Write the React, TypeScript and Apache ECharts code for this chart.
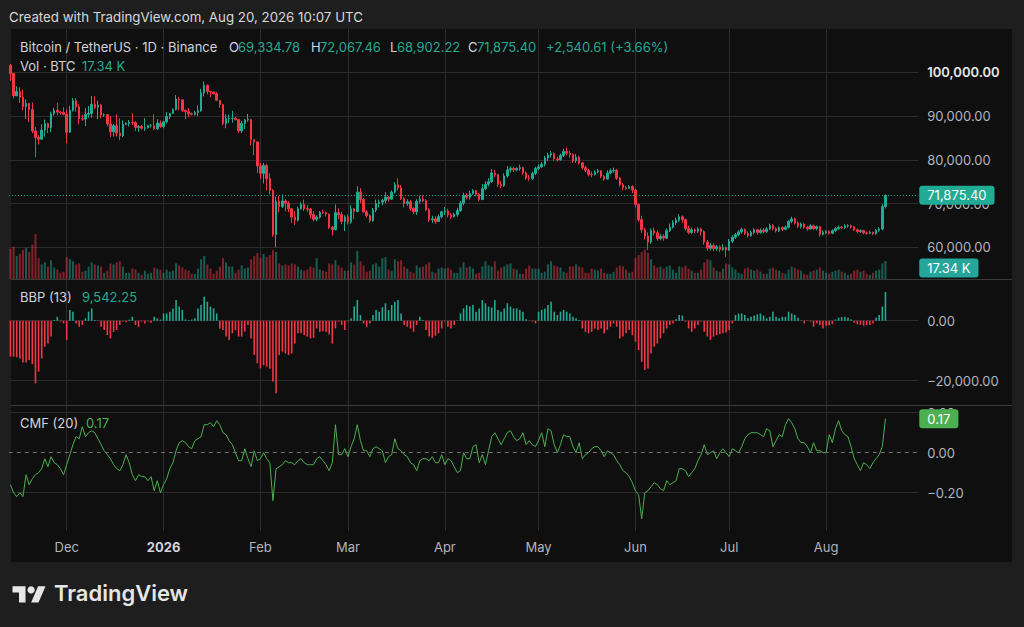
import React, { useEffect, useRef } from "react";
import * as echarts from "echarts";

// ---------------- DATA (prices in thousands of USDT, volume in thousands of BTC) ----------------
const START_UTC = Date.UTC(2025, 10, 13); // first visible daily bar: 13 Nov 2025
const FUTURE_SLOTS = 10; // empty bars to the right of the last candle
const FIRST_OPEN_K = 101.6;

const CLOSE_K = [
  // Nov
  99.7, 94.6, 95.6, 94.3, 92.2, 92.9, 91.5, 86.6, 85.1, 84.7, 86.8, 88.3, 87.4, 90.5, 91.3, 90.9, 90.8, 90.4,
  // Dec
  86.3, 91.3, 93.5, 92.1, 89.4, 89.3, 90.4, 90.6, 92.7, 92.0, 92.5, 90.3, 90.3, 88.2, 86.4, 87.8, 86.1, 85.5, 88.1, 88.3, 88.6, 88.5, 87.4, 87.6, 87.2, 87.3, 87.8, 87.8, 87.1, 88.4, 87.6,
  // Jan
  88.7, 89.9, 90.6, 91.5, 93.9, 93.7, 91.3, 91.0, 90.5, 90.4, 90.8, 91.2, 95.3, 97.0, 95.6, 95.5, 95.1, 93.6, 92.6, 88.3, 89.4, 89.5, 89.5, 89.2, 86.6, 88.3, 89.1, 89.2, 84.6, 84.1, 78.6,
  // Feb
  76.9, 78.7, 75.7, 73.0, 62.9, 70.5, 69.3, 70.6, 70.1, 68.8, 66.9, 66.2, 68.8, 69.8, 68.8, 68.7, 67.5, 66.4, 66.9, 68.0, 67.9, 67.6, 64.6, 64.0, 67.9, 67.5, 65.9, 66.9,
  // Mar
  65.8, 68.8, 68.2, 72.6, 70.9, 68.1, 67.2, 66.1, 68.5, 70.0, 70.3, 70.7, 71.5, 71.0, 72.6, 74.3, 73.6, 71.2, 70.0, 70.4, 68.9, 68.1, 70.5, 71.0, 70.6, 68.6, 66.3, 66.5, 65.9, 67.0, 68.1,
  // Apr
  68.3, 67.4, 67.0, 67.5, 68.4, 70.1, 71.9, 71.4, 72.3, 72.9, 72.1, 70.9, 73.4, 74.4, 75.0, 77.0, 76.6, 74.4, 74.1, 76.3, 77.7, 78.0, 77.7, 78.0, 78.2, 77.0, 75.8, 75.7, 76.9, 78.0,
  // May
  78.4, 79.0, 80.4, 81.1, 81.4, 80.2, 80.0, 81.0, 81.9, 81.5, 81.2, 79.8, 80.6, 79.3, 78.2, 77.6, 76.7, 76.6, 77.2, 77.5, 76.2, 75.6, 77.0, 77.5, 77.6, 75.8, 74.3, 73.6, 73.5, 73.9, 73.1,
  // Jun
  69.8, 66.3, 64.0, 62.6, 61.2, 63.8, 63.3, 62.0, 62.5, 62.1, 63.8, 64.6, 65.6, 66.2, 67.0, 66.3, 64.3, 63.4, 64.0, 63.7, 64.2, 63.6, 61.2, 59.8, 60.4, 59.7, 60.1, 59.5, 59.9, 59.4,
  // Jul
  61.4, 62.3, 62.9, 63.5, 64.1, 63.2, 62.7, 63.4, 64.0, 63.4, 63.9, 63.6, 64.2, 65.0, 64.3, 63.8, 64.5, 64.1, 64.6, 65.9, 66.5, 65.6, 64.8, 65.3, 64.6, 64.2, 64.9, 64.3, 64.7, 63.0, 63.4,
  // Aug
  63.6, 63.2, 63.8, 64.3, 64.6, 64.5, 64.9, 65.0, 64.7, 64.0, 63.6, 63.8, 63.3, 63.2, 63.4, 63.1, 63.9, 64.2, 69.33478, 71.8754,
];

const HIGH_K = [
  101.9, 99.9, 96.8, 96.6, 96.0, 93.8, 92.9, 93.1, 87.5, 85.6, 88.1, 89.2, 88.5, 91.0, 91.9, 93.1, 91.2, 92.0,
  91.5, 92.3, 94.1, 94.1, 92.7, 90.3, 91.8, 92.3, 94.6, 94.5, 93.5, 92.8, 90.6, 90.4, 90.0, 88.2, 90.4, 89.5, 89.0, 88.6, 89.1, 90.6, 88.9, 87.9, 88.0, 89.5, 88.0, 88.2, 90.4, 89.3, 89.0,
  88.9, 90.9, 90.7, 91.8, 94.8, 94.4, 93.8, 91.5, 91.8, 90.8, 91.2, 92.4, 96.2, 97.9, 97.2, 95.8, 95.6, 95.5, 93.7, 92.8, 90.4, 90.3, 91.2, 89.8, 89.2, 88.9, 89.3, 90.5, 89.2, 84.5, 84.0,
  79.3, 79.3, 79.0, 76.9, 73.3, 71.6, 71.7, 72.1, 71.0, 70.5, 69.0, 68.3, 69.3, 70.3, 70.9, 69.7, 69.0, 68.3, 67.3, 68.3, 68.6, 68.2, 67.7, 64.9, 69.8, 68.9, 68.1, 67.3,
  67.5, 69.6, 69.0, 74.0, 73.5, 71.3, 68.5, 67.6, 69.0, 70.9, 70.9, 71.1, 72.6, 71.7, 73.0, 74.9, 75.8, 74.2, 71.5, 71.0, 70.8, 69.2, 71.0, 71.8, 71.9, 71.0, 68.9, 67.2, 67.1, 67.5, 68.4,
  69.2, 68.8, 67.8, 67.9, 69.0, 70.6, 72.5, 72.4, 72.9, 73.3, 73.1, 72.4, 74.4, 75.1, 75.8, 77.9, 77.7, 76.8, 75.2, 76.9, 78.6, 78.5, 78.4, 78.3, 78.9, 78.4, 77.3, 76.5, 77.3, 78.4,
  78.9, 79.5, 80.9, 81.6, 82.0, 81.7, 80.7, 81.4, 82.5, 82.8, 82.0, 81.5, 81.3, 80.9, 79.5, 78.6, 77.9, 77.3, 77.6, 77.9, 77.6, 76.5, 77.6, 78.0, 78.2, 77.9, 76.1, 74.7, 74.0, 74.2, 74.2,
  73.4, 70.0, 67.2, 64.5, 63.4, 64.3, 64.5, 63.9, 63.1, 63.0, 64.3, 65.4, 66.2, 66.8, 67.6, 67.3, 66.6, 64.9, 64.5, 64.3, 64.6, 64.5, 63.9, 61.7, 61.0, 60.9, 60.5, 60.4, 60.7, 60.2,
  61.9, 62.8, 63.3, 63.9, 64.5, 64.3, 63.6, 63.8, 64.4, 64.2, 64.3, 64.4, 64.6, 65.4, 65.3, 64.6, 64.8, 64.8, 65.0, 66.2, 67.0, 66.8, 65.9, 65.7, 65.6, 64.9, 65.3, 65.2, 65.0, 64.9, 63.9,
  63.9, 63.9, 64.1, 64.6, 65.0, 64.9, 65.3, 65.3, 65.2, 64.9, 64.3, 64.1, 64.0, 63.6, 63.8, 63.6, 64.2, 64.6, 69.9, 72.06746,
];

const LOW_K = [
  98.0, 94.0, 94.6, 93.0, 91.3, 89.3, 88.6, 86.1, 80.6, 83.5, 84.6, 85.3, 86.1, 86.3, 90.1, 90.2, 90.3, 90.2,
  83.8, 86.2, 91.0, 91.0, 88.1, 88.9, 87.7, 89.6, 89.6, 91.6, 89.3, 89.5, 89.8, 87.6, 85.2, 85.3, 85.3, 84.5, 85.2, 87.9, 87.6, 87.9, 86.6, 86.4, 86.9, 86.6, 87.2, 87.4, 86.8, 86.8, 87.3,
  87.2, 88.3, 89.3, 90.5, 91.3, 91.3, 90.9, 89.3, 89.7, 90.2, 90.1, 90.0, 91.0, 94.5, 95.0, 94.3, 94.9, 93.5, 91.9, 87.9, 87.2, 88.4, 88.5, 89.0, 86.1, 86.1, 87.0, 88.7, 83.3, 81.1, 77.0,
  75.6, 74.6, 73.0, 72.1, 62.4, 60.0, 68.0, 69.0, 68.2, 68.0, 65.6, 65.1, 65.9, 68.6, 68.3, 68.1, 66.6, 65.9, 65.9, 66.5, 67.6, 67.0, 64.2, 62.7, 63.9, 66.4, 65.3, 63.7,
  65.2, 65.3, 66.4, 68.0, 70.1, 67.9, 66.8, 65.6, 65.8, 68.0, 69.1, 69.6, 70.1, 70.4, 70.9, 72.3, 73.0, 70.8, 69.1, 69.5, 68.4, 67.6, 67.4, 70.0, 70.3, 68.2, 65.8, 65.6, 65.3, 65.9, 66.6,
  67.4, 66.8, 66.5, 66.8, 67.0, 68.1, 69.6, 70.9, 70.9, 72.0, 71.6, 70.5, 70.8, 73.1, 73.9, 74.7, 76.0, 73.8, 73.5, 73.8, 75.9, 77.1, 77.2, 77.4, 77.5, 76.6, 75.4, 75.2, 75.4, 76.5,
  77.6, 78.1, 78.5, 79.7, 80.5, 79.8, 79.6, 79.8, 80.6, 81.0, 80.5, 79.3, 79.3, 78.9, 77.8, 77.2, 76.2, 76.0, 76.4, 76.9, 75.8, 75.2, 75.5, 76.7, 77.0, 75.4, 73.9, 73.0, 73.1, 73.3, 72.4,
  69.1, 65.9, 63.3, 61.8, 59.4, 60.8, 62.7, 61.5, 61.6, 61.5, 61.9, 63.5, 64.3, 65.1, 65.8, 65.6, 63.8, 63.0, 63.1, 63.2, 63.3, 62.7, 60.6, 59.2, 59.3, 59.1, 59.2, 58.9, 59.2, 57.8,
  59.2, 61.0, 61.9, 62.5, 63.1, 62.8, 62.2, 62.4, 63.0, 62.9, 63.1, 63.2, 63.3, 63.9, 63.9, 63.4, 63.5, 63.7, 63.9, 64.3, 65.5, 65.2, 64.4, 64.3, 64.2, 63.8, 64.0, 63.9, 63.9, 62.4, 62.7,
  63.0, 62.9, 63.0, 63.5, 64.0, 64.1, 64.2, 64.5, 64.3, 63.7, 63.2, 63.3, 63.0, 62.9, 63.0, 62.8, 62.9, 63.5, 63.9, 68.90222,
];

const VOLUME_K = [
  29, 31, 22, 24, 28, 30, 26, 33, 43, 20, 14, 16, 12, 18, 11, 9, 6, 7,
  21, 19, 17, 14, 15, 7, 8, 12, 16, 14, 13, 12, 6, 8, 15, 14, 16, 17, 12, 6, 6, 10, 9, 6, 4, 8, 5, 6, 11, 10, 9,
  6, 9, 7, 8, 15, 13, 11, 9, 8, 5, 5, 10, 19, 22, 14, 10, 5, 8, 12, 20, 16, 12, 12, 6, 9, 13, 10, 11, 19, 22, 25,
  20, 24, 21, 23, 28, 26, 15, 13, 14, 13, 15, 14, 12, 9, 8, 9, 12, 11, 20, 9, 8, 7, 15, 14, 18, 13, 11, 8,
  8, 16, 14, 27, 17, 13, 7, 8, 14, 15, 12, 20, 21, 9, 8, 19, 17, 18, 12, 10, 7, 6, 13, 11, 12, 14, 16, 7, 6, 10, 11,
  10, 11, 9, 6, 6, 11, 16, 11, 12, 10, 5, 6, 12, 17, 13, 12, 17, 8, 11, 12, 14, 15, 10, 9, 5, 5, 10, 13, 10, 10,
  10, 6, 7, 14, 17, 13, 12, 11, 7, 6, 12, 12, 14, 12, 11, 6, 6, 10, 9, 8, 10, 6, 5, 5, 7, 11, 13, 12, 9, 6, 7,
  20, 23, 26, 28, 25, 19, 13, 11, 12, 10, 12, 13, 9, 6, 12, 11, 13, 10, 8, 6, 6, 9, 16, 19, 18, 11, 8, 7, 10, 15,
  14, 11, 9, 6, 5, 10, 11, 9, 8, 9, 7, 5, 5, 10, 11, 9, 8, 6, 5, 9, 12, 11, 9, 8, 5, 4, 7, 8, 9, 11, 8,
  6, 5, 7, 8, 9, 7, 6, 4, 5, 8, 9, 7, 8, 5, 4, 6, 8, 9, 15, 17.34,
];

// Bull Bear Power (13), thousands
const BBP_K = [
  -12.0, -12.0, -12.2, -12.6, -13.9, -13.9, -13.1, -14.5, -20.9, -17.0, -12.6, -8.7, -7.6, -5.3, 0.2, 1.3, -0.3, -0.9,
  -6.4, 3.6, 3.0, -0.9, -2.0, -1.4, 0.8, 3.0, 4.1, 0.2, 0.1, -2.0, -3.1, -4.8, -5.9, -3.7, -3.1, -1.4, -0.3, -0.5, 0.3, 1.3, -1.4, -2.0, -0.3, -0.9, -0.3, -0.7, 1.3, 0.8, 0.4,
  2.4, 2.4, 3.0, 4.1, 6.9, 4.7, 3.6, 0.4, 0.2, 0.4, 0.8, 4.1, 5.2, 8.0, 6.3, 4.7, 4.1, 2.4, -2.6, -3.1, -5.3, -6.4, -4.2, -3.1, -5.3, -5.3, -3.7, -1.4, -5.9, -11.4, -14.2,
  -15.9, -14.8, -15.3, -16.0, -20.3, -24.2, -11.4, -10.3, -10.9, -11.4, -10.9, -7.6, -4.2, -4.2, -4.8, -5.3, -5.9, -5.7, -2.6, -3.7, -3.5, -3.7, -4.6, -7.6, -2.6, -0.3, -1.4, -3.1,
  -0.3, 0.8, 4.7, 6.9, 1.9, -0.9, -2.0, -0.9, 1.9, 3.6, 3.0, 4.5, 5.8, 3.6, 5.2, 6.3, 6.9, 2.4, -1.4, -2.0, -2.6, -3.7, -1.4, 1.3, 0.2, -3.1, -5.3, -5.7, -5.0, -4.2, -2.6,
  -0.3, -2.0, -2.6, -1.4, 0.1, 2.4, 4.1, 5.2, 4.7, 5.2, 3.0, 4.1, 6.9, 5.8, 4.7, 4.4, 6.9, 3.6, 3.0, 4.1, 5.8, 4.7, 4.1, 4.1, 3.6, 3.0, 0.5, 0.1, -0.3, -0.9,
  3.0, 3.6, 4.1, 5.2, 6.3, 3.0, 1.9, 3.0, 3.6, 3.0, 2.4, 1.3, 0.8, 0.2, -2.6, -3.7, -4.2, -3.7, -2.6, -3.1, -2.6, -4.2, -3.0, -2.0, -0.9, -2.0, -5.9, -5.3, -4.2, -3.1, -4.8,
  -7.0, -9.8, -13.7, -16.4, -15.9, -10.9, -8.7, -7.6, -5.9, -4.2, -2.6, -1.4, -0.9, 0.5, 1.9, 1.7, -0.3, -2.6, -3.7, -2.6, -1.4, -0.3, -3.7, -5.3, -6.4, -5.3, -4.8, -4.5, -4.2, -3.9,
  -3.1, -0.9, 1.9, 2.4, 2.4, 1.9, 0.8, 1.3, 1.7, 2.1, 2.4, 1.7, 0.8, 1.3, 3.0, 1.3, 0.8, 1.3, 1.3, 3.0, 2.4, 2.0, 1.0, 0.1, -0.9, -0.1, -0.3, -2.0, -0.9, -1.4, -2.6,
  -1.7, -1.5, -1.2, 0.4, 1.0, 1.2, 1.3, 1.0, 0.4, -0.7, -1.2, -1.4, -1.7, -1.5, -1.4, -0.9, 1.0, 1.9, 4.7, 9.54225,
];

// Chaikin Money Flow (20)
const CMF = [
  -0.16, -0.20, -0.22, -0.20, -0.22, -0.11, -0.16, -0.13, -0.11, -0.10, -0.08, -0.03, -0.07, -0.02, -0.05, -0.06, -0.08, -0.11,
  -0.06, -0.01, 0.04, 0.08, 0.07, 0.13, 0.08, 0.10, 0.11, 0.10, 0.07, 0.04, 0.01, -0.01, -0.03, -0.06, -0.08, -0.09, -0.06, -0.01, -0.05, -0.11, -0.14, -0.11, -0.12, -0.12, -0.14, -0.12, -0.19, -0.14, -0.20,
  -0.16, -0.13, -0.08, -0.05, 0.01, 0.05, 0.06, 0.05, 0.03, 0.02, 0.06, 0.07, 0.08, 0.14, 0.14, 0.15, 0.13, 0.16, 0.14, 0.10, 0.09, 0.06, 0.04, 0.00, -0.04, -0.04, 0.02, -0.03, -0.07, 0.01, -0.04,
  -0.03, 0.00, -0.03, -0.05, -0.24, -0.08, -0.07, -0.06, -0.04, -0.05, -0.05, -0.06, -0.04, -0.03, -0.05, -0.06, -0.06, -0.06, -0.03, -0.02, -0.04, -0.06, -0.09, -0.05, 0.14, -0.01, -0.01, 0.02,
  -0.02, 0.03, 0.07, 0.14, 0.06, 0.01, 0.01, -0.02, 0.02, 0.03, 0.02, 0.01, -0.05, -0.02, -0.01, 0.07, 0.02, 0.01, -0.01, -0.02, -0.05, -0.06, -0.09, -0.04, -0.03, -0.03, -0.04, -0.02, -0.05, -0.05, -0.01,
  -0.06, -0.03, -0.04, -0.07, -0.10, -0.09, 0.00, -0.03, -0.03, 0.03, 0.04, -0.05, -0.01, -0.06, 0.01, 0.08, 0.10, 0.07, 0.04, 0.07, 0.10, 0.11, 0.08, 0.06, 0.07, 0.10, 0.04, 0.06, 0.04, 0.03,
  0.06, 0.10, 0.03, 0.12, 0.11, 0.04, 0.00, 0.04, 0.09, 0.08, 0.08, 0.03, 0.00, 0.05, -0.03, -0.01, 0.00, 0.02, 0.03, 0.03, 0.01, -0.02, 0.01, 0.00, -0.01, -0.04, -0.06, -0.09, -0.10, -0.12, -0.15,
  -0.19, -0.21, -0.33, -0.20, -0.19, -0.17, -0.15, -0.16, -0.18, -0.19, -0.14, -0.16, -0.15, -0.14, -0.08, -0.08, -0.09, -0.12, -0.10, -0.08, -0.04, -0.01, 0.04, -0.01, 0.00, 0.01, -0.03, 0.00, 0.02, 0.00,
  -0.02, 0.02, 0.01, 0.00, 0.03, 0.07, 0.09, 0.10, 0.10, 0.10, 0.09, 0.08, 0.12, 0.11, 0.03, 0.06, 0.09, 0.08, 0.14, 0.17, 0.15, 0.12, 0.07, 0.05, 0.05, 0.03, 0.00, 0.05, 0.01, 0.01, 0.00,
  0.00, 0.09, 0.05, 0.12, 0.16, 0.11, 0.09, 0.08, 0.03, -0.03, -0.06, -0.09, -0.05, -0.06, -0.08, -0.05, -0.03, -0.01, 0.03, 0.17,
];

// Time-axis tick labels (shown on the first bar of each month)
const MONTH_KEYS = ["2025-12", "2026-01", "2026-02", "2026-03", "2026-04", "2026-05", "2026-06", "2026-07", "2026-08"];
const MONTH_LABELS = ["Dec", "2026", "Feb", "Mar", "Apr", "May", "Jun", "Jul", "Aug"];

// Legend texts
const HEADER_TEXT = "Created with TradingView.com, Aug 20, 2026 10:07 UTC";
const SYMBOL_TEXT = "Bitcoin / TetherUS · 1D · Binance";
const OHLC_KEYS = ["O", "H", "L", "C"];
const OHLC_TEXT = ["69,334.78", "72,067.46", "68,902.22", "71,875.40"];
const CHANGE_TEXT = "+2,540.61 (+3.66%)";

// ---------------- STYLE ----------------
const FONT = 'Inter, "Noto Sans", "DejaVu Sans", sans-serif';
const UP = "#22ab94";
const DOWN = "#f23645";
const UP_VOL = "rgba(34,171,148,0.5)";
const DOWN_VOL = "rgba(242,54,69,0.5)";
const CMF_COLOR = "#4caf50";
const GRID_C = "#2c2c2c";
const SEP_C = "#3a3a3a";
const AXIS_TXT = "#b2b5be";
const LEG_TXT = "#d1d4dc";

const BAR_PX = 3.125;
const FIRST_X = 10.45;
const TV_LOGO_PATH = "M14 22H7V11H0V4h14v18zM28 22h-8l7.5-18h8L28 22z";

const fmt = (v: number, d = 2) =>
  v.toLocaleString("en-US", { minimumFractionDigits: d, maximumFractionDigits: d }).replace("-", "\u2212");

function buildOption() {
  const n = CLOSE_K.length;
  const total = n + FUTURE_SLOTS;
  const dates: string[] = [];
  for (let i = 0; i < total; i++) dates.push(new Date(START_UTC + i * 86400000).toISOString().slice(0, 10));
  const monthLabel = (d: string) => {
    if (!d || !d.endsWith("-01")) return null;
    const k = MONTH_KEYS.indexOf(d.slice(0, 7));
    return k >= 0 ? MONTH_LABELS[k] : null;
  };
  const isMonthIdx = (idx: number) => monthLabel(dates[idx]) !== null;

  const ohlc = CLOSE_K.map((c, i) => {
    const o = i === 0 ? FIRST_OPEN_K : CLOSE_K[i - 1];
    const h = Math.max(HIGH_K[i], o, c);
    const l = Math.min(LOW_K[i], o, c);
    return [o * 1000, c * 1000, l * 1000, h * 1000];
  });
  const volData = VOLUME_K.map((v, i) => ({
    value: v,
    itemStyle: { color: ohlc[i][1] >= ohlc[i][0] ? UP_VOL : DOWN_VOL },
  }));
  const bbpData = BBP_K.map((v) => ({ value: v * 1000, itemStyle: { color: v >= 0 ? UP : DOWN } }));

  const lastClose = ohlc[n - 1][1];
  const lastVol = VOLUME_K[n - 1];
  const lastBbp = BBP_K[n - 1] * 1000;
  const lastCmf = CMF[n - 1];

  const gridW = total * BAR_PX;
  const mainLeft = FIRST_X - BAR_PX / 2;
  const mainRight = 1024 - (mainLeft + gridW);
  const bgRight = 1024 - (FIRST_X + (total - 1) * BAR_PX);

  const badge = (text: string, bg: string, offsetY = 0) => ({
    show: true,
    position: "end",
    distance: 1,
    formatter: text,
    color: "#ffffff",
    backgroundColor: bg,
    padding: [3, 8, 3, 8],
    borderRadius: 3,
    fontSize: 13,
    lineHeight: 13,
    fontFamily: FONT,
    offset: [0, offsetY],
  });
  const hidden = { color: "rgba(0,0,0,0)", width: 0 };

  const axisLbl = { color: AXIS_TXT, fontSize: 13, fontFamily: FONT, margin: 9 };
  const hideX = (g: number) => ({ type: "category", gridIndex: g, data: dates, show: false });

  const txt = (x: number, y: number, text: string, fill: string, font = `13px ${FONT}`) => ({
    type: "text",
    x,
    y,
    z: 60,
    silent: true,
    style: { text, fill, font, align: "left", verticalAlign: "middle" },
  });

  const ohlcX = [229, 311, 390, 468];
  const ohlcValX = [238, 320, 397, 477];
  const graphics: any[] = [
    txt(9, 17, HEADER_TEXT, "#d9d9d9", `13.3px ${FONT}`),
    txt(20, 47, SYMBOL_TEXT, LEG_TXT),
    ...OHLC_KEYS.map((k, i) => txt(ohlcX[i], 47, k, LEG_TXT)),
    ...OHLC_TEXT.map((v, i) => txt(ohlcValX[i], 47, v, UP)),
    txt(546, 47, CHANGE_TEXT, UP),
    txt(20, 66, "Vol · BTC", LEG_TXT),
    txt(82, 66, `${fmt(lastVol)} K`, UP),
    txt(20, 297, "BBP (13)", LEG_TXT),
    txt(82, 297, fmt(lastBbp), UP),
    txt(20, 423, "CMF (20)", LEG_TXT),
    txt(86, 423, fmt(lastCmf), CMF_COLOR),
    { type: "line", z: 50, silent: true, shape: { x1: 11, y1: 279.5, x2: 1012, y2: 279.5 }, style: { stroke: SEP_C, lineWidth: 1 } },
    { type: "line", z: 50, silent: true, shape: { x1: 11, y1: 405.5, x2: 1012, y2: 405.5 }, style: { stroke: SEP_C, lineWidth: 1 } },
    { type: "tvLogo", x: 12.5, y: 582.6, scaleX: 0.93, scaleY: 0.91, z: 60, silent: true, style: { fill: "#e6e6e6" } },
    { type: "circle", z: 60, silent: true, shape: { cx: 12.5 + 20 * 0.93, cy: 582.6 + 8 * 0.91, r: 4 * 0.91 }, style: { fill: "#e6e6e6" } },
    txt(54, 593, "TradingView", "#e6e6e6", `600 22px ${FONT}`),
  ];

  return {
    animation: false,
    backgroundColor: "transparent",
    textStyle: { fontFamily: FONT },
    grid: [
      { left: mainLeft, right: mainRight, top: 28.55, height: 218.75, outerBoundsMode: "none" },
      { left: mainLeft, right: mainRight, top: 229, height: 50, outerBoundsMode: "none" },
      { left: mainLeft, right: mainRight, top: 320.7, height: 60, outerBoundsMode: "none" },
      { left: mainLeft, right: mainRight, top: 412.7, height: 80, outerBoundsMode: "none" },
      { left: FIRST_X, right: bgRight, top: 29, height: 502, outerBoundsMode: "none" },
    ],
    xAxis: [
      hideX(0),
      hideX(1),
      hideX(2),
      hideX(3),
      {
        type: "category",
        gridIndex: 4,
        data: dates,
        boundaryGap: false,
        axisLine: { show: false },
        axisTick: { show: false },
        splitLine: { show: true, interval: (idx: number) => isMonthIdx(idx), lineStyle: { color: GRID_C, width: 1 } },
        axisLabel: {
          interval: (idx: number) => isMonthIdx(idx),
          formatter: (value: string) => {
            const l = monthLabel(value) || "";
            return l === "2026" ? `{b|${l}}` : l;
          },
          color: AXIS_TXT,
          fontSize: 13,
          fontFamily: FONT,
          margin: 9,
          rich: { b: { fontWeight: "bold", color: LEG_TXT, fontSize: 13, fontFamily: FONT } },
        },
      },
    ],
    yAxis: [
      {
        type: "value",
        gridIndex: 0,
        position: "right",
        min: 60000,
        max: 110000,
        interval: 10000,
        axisLine: { show: false },
        axisTick: { show: false },
        splitLine: { show: true, showMaxLine: false, lineStyle: { color: GRID_C } },
        axisLabel: {
          ...axisLbl,
          showMaxLabel: false,
          formatter: (v: number) => (v >= 110000 ? "" : v === 100000 ? `{hi|${fmt(v)}}` : fmt(v)),
          rich: { hi: { color: "#e8e8e8", fontWeight: 600, fontSize: 13, fontFamily: FONT } },
        },
      },
      { type: "value", gridIndex: 1, min: 0, max: 48, show: false },
      {
        type: "value",
        gridIndex: 2,
        position: "right",
        min: -20000,
        max: 0,
        interval: 20000,
        axisLine: { show: false },
        axisTick: { show: false },
        splitLine: { show: true, lineStyle: { color: GRID_C } },
        axisLabel: { ...axisLbl, formatter: (v: number) => fmt(v) },
      },
      {
        type: "value",
        gridIndex: 3,
        position: "right",
        min: -0.2,
        max: 0.2,
        interval: 0.2,
        axisLine: { show: false },
        axisTick: { show: false },
        splitLine: { show: true, lineStyle: { color: [GRID_C, "rgba(0,0,0,0)", GRID_C] } },
        axisLabel: { ...axisLbl, formatter: (v: number) => fmt(Math.round(v * 100) / 100) },
      },
      { type: "value", gridIndex: 4, show: false },
    ],
    series: [
      {
        type: "candlestick",
        xAxisIndex: 0,
        yAxisIndex: 0,
        data: ohlc,
        barWidth: 2,
        clip: false,
        itemStyle: { color: UP, color0: DOWN, borderColor: UP, borderColor0: DOWN, borderWidth: 1 },
        markLine: {
          silent: true,
          symbol: ["none", "none"],
          animation: false,
          data: [
            {
              yAxis: lastClose,
              lineStyle: { color: UP, type: [1, 2], width: 1 },
              label: badge(fmt(lastClose), UP),
            },
          ],
        },
      },
      {
        type: "bar",
        xAxisIndex: 1,
        yAxisIndex: 1,
        data: volData,
        barWidth: 2,
        clip: false,
        markLine: {
          silent: true,
          symbol: ["none", "none"],
          animation: false,
          data: [{ yAxis: lastVol, lineStyle: hidden, label: badge(`${fmt(lastVol)} K`, "#26a69a", 7) }],
        },
      },
      {
        type: "bar",
        xAxisIndex: 2,
        yAxisIndex: 2,
        data: bbpData,
        barWidth: 1.6,
        clip: false,
        markLine: {
          silent: true,
          symbol: ["none", "none"],
          animation: false,
          data: [{ yAxis: lastBbp, lineStyle: hidden, label: badge(fmt(lastBbp), UP) }],
        },
      },
      {
        type: "line",
        xAxisIndex: 3,
        yAxisIndex: 3,
        data: CMF,
        showSymbol: false,
        symbol: "none",
        clip: false,
        lineStyle: { color: CMF_COLOR, width: 1 },
        markLine: {
          silent: true,
          symbol: ["none", "none"],
          animation: false,
          data: [
            { yAxis: 0, lineStyle: { color: "#6e6e6e", type: [4, 4], width: 1 }, label: { show: false } },
            { yAxis: lastCmf, lineStyle: hidden, label: badge(fmt(lastCmf), CMF_COLOR) },
          ],
        },
      },
    ],
    graphic: graphics,
  };
}

export default function App() {
  const ref = useRef<HTMLDivElement>(null);
  useEffect(() => {
    if (!ref.current) return;
    echarts.graphic.registerShape("tvLogo", echarts.graphic.extendPath(TV_LOGO_PATH, {}));
    const chart = echarts.init(ref.current, null, { renderer: "svg" });
    chart.setOption(buildOption() as any);
    return () => chart.dispose();
  }, []);
  return (
    <div style={{ position: "fixed", left: 0, top: 0, width: 1024, height: 627, background: "#1e1e1e", overflow: "hidden" }}>
      <div style={{ position: "absolute", left: 11, top: 29, width: 1001, height: 533, background: "#0f0f0f" }} />
      <div ref={ref} style={{ position: "absolute", left: 0, top: 0, width: 1024, height: 627 }} />
    </div>
  );
}
